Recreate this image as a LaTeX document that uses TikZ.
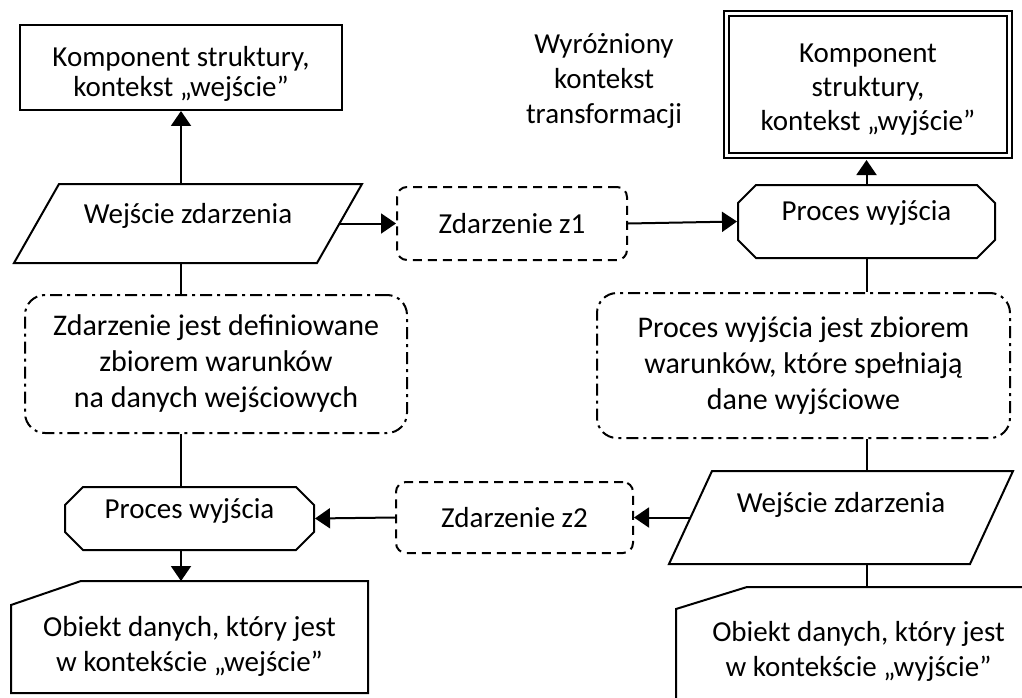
\documentclass[tikz,border=0pt]{standalone}
\usepackage{fontspec}
\setmainfont{Carlito}
\usetikzlibrary{arrows.meta,calc,shapes.misc}

\begin{document}
\begin{tikzpicture}[x=1pt, y=-1pt, line width=2pt, >={Triangle[length=15pt,width=20pt]},
    every node/.style={font=\fontsize{29}{35}\selectfont, inner sep=0pt, align=center},
    compbox/.style={draw, rectangle},
    eventbox/.style={draw, rectangle, rounded corners=10pt, dash pattern=on 9pt off 6pt},
    notebox/.style={draw, rectangle, rounded corners=20pt, dash pattern=on 12pt off 5pt on 3pt off 5pt,
      font=\fontsize{30}{36}\selectfont},
    procbox/.style={draw, chamfered rectangle, chamfered rectangle sep=9pt},
    inputbox/.style={rectangle}]
    \useasboundingbox (0,0) rectangle (1022,698);

    % top row
    \node[compbox, minimum width=322pt, minimum height=85pt, font=\fontsize{29}{30}\selectfont,
      text height=59pt, text depth=0pt] (compin) at (181,67.5)
      {Komponent struktury,\\kontekst „wejście”};
    \node (title) at (604,81) {Wyróżniony\\kontekst\\transformacji};
    \node[compbox, double, double distance=3pt, minimum width=283pt, minimum height=142pt,
      font=\fontsize{29}{34}\selectfont, text height=93pt, text depth=0pt] (compout) at (868,84.5)
      {Komponent\\struktury,\\kontekst „wyjście”};

    % events
    \node[inputbox, minimum width=301pt, minimum height=77pt, text depth=20pt] (p1) at (188,223.5) {Wejście zdarzenia};
    \draw[line join=miter] ($(p1.north west)+(22.5,0)$) -- ($(p1.north east)+(22.5,0)$)
      -- ($(p1.south east)+(-22.5,0)$) -- ($(p1.south west)+(-22.5,0)$) -- cycle;
    \node[eventbox, minimum width=230pt, minimum height=73pt] (z1) at (512,223.5) {Zdarzenie z1};
    \node[procbox, minimum width=257pt, minimum height=73pt, text depth=22pt] (pw1) at (866.5,221.5) {Proces wyjścia};

    \node[notebox, minimum width=382pt, minimum height=138pt] (d1) at (216,364)
      {Zdarzenie jest definiowane\\zbiorem warunków\\na danych wejściowych};
    \node[notebox, minimum width=413pt, minimum height=145pt] (d2) at (803.5,365.5)
      {Proces wyjścia jest zbiorem\\warunków, które spełniają\\dane wyjściowe};

    \node[procbox, minimum width=249pt, minimum height=63pt, text depth=20pt] (pw2) at (189.5,518.5) {Proces wyjścia};
    \node[eventbox, minimum width=237pt, minimum height=71pt] (z2) at (514.5,517.5) {Zdarzenie z2};
    \node[inputbox, minimum width=299pt, minimum height=91pt, text depth=30pt] (p2) at (841,517.5) {Wejście zdarzenia};
    \draw[line join=miter] ($(p2.north west)+(21.5,0)$) -- ($(p2.north east)+(21.5,0)$)
      -- ($(p2.south east)+(-21.5,0)$) -- ($(p2.south west)+(-21.5,0)$) -- cycle;

    % data objects
    \node[minimum width=355pt, minimum height=110pt, text height=75pt, text depth=7pt] (c1) at (189.5,637)
      {Obiekt danych, który jest\\w kontekście „wejście”};
    \node[minimum width=363pt, minimum height=122pt, text height=61pt, text depth=7pt] (c2) at (858.5,649)
      {Obiekt danych, który jest\\w kontekście „wyjście”};
    \draw[line join=miter] (c1.south west) -- ($(c1.north west)+(0,24)$) -- ($(c1.north west)+(70,0)$)
      -- (c1.north east) -- (c1.south east) -- cycle;
    \draw[line join=miter] (c2.south west) -- ($(c2.north west)+(0,22)$) -- ($(c2.north west)+(71,0)$)
      -- (c2.north east) -- (c2.south east) -- cycle;

    % connectors
    \draw[->] (compin.south |- p1.north) -- (compin.south);
    \draw[->] (p1.east) -- (z1.west);
    \draw[->] (z1.east) -- (pw1.west);
    \draw[->, shorten >=3.5pt] (pw1.north) -- (pw1.north |- compout.south);
    \draw (pw1.south) -- (pw1.south |- d2.north);
    \draw (pw1.south |- d2.south) -- (pw1.south |- p2.north);
    \draw (pw1.south |- p2.south) -- (pw1.south |- c2.north);
    \draw[->] (p2.west) -- (z2.east);
    \draw[->] (z2.west) -- (pw2.east);
    \draw (compin.south |- p1.south) -- (compin.south |- d1.north);
    \draw (compin.south |- d1.south) -- (compin.south |- pw2.north);
    \draw[->] (compin.south |- pw2.south) -- (compin.south |- c1.north);
\end{tikzpicture}
\end{document}
